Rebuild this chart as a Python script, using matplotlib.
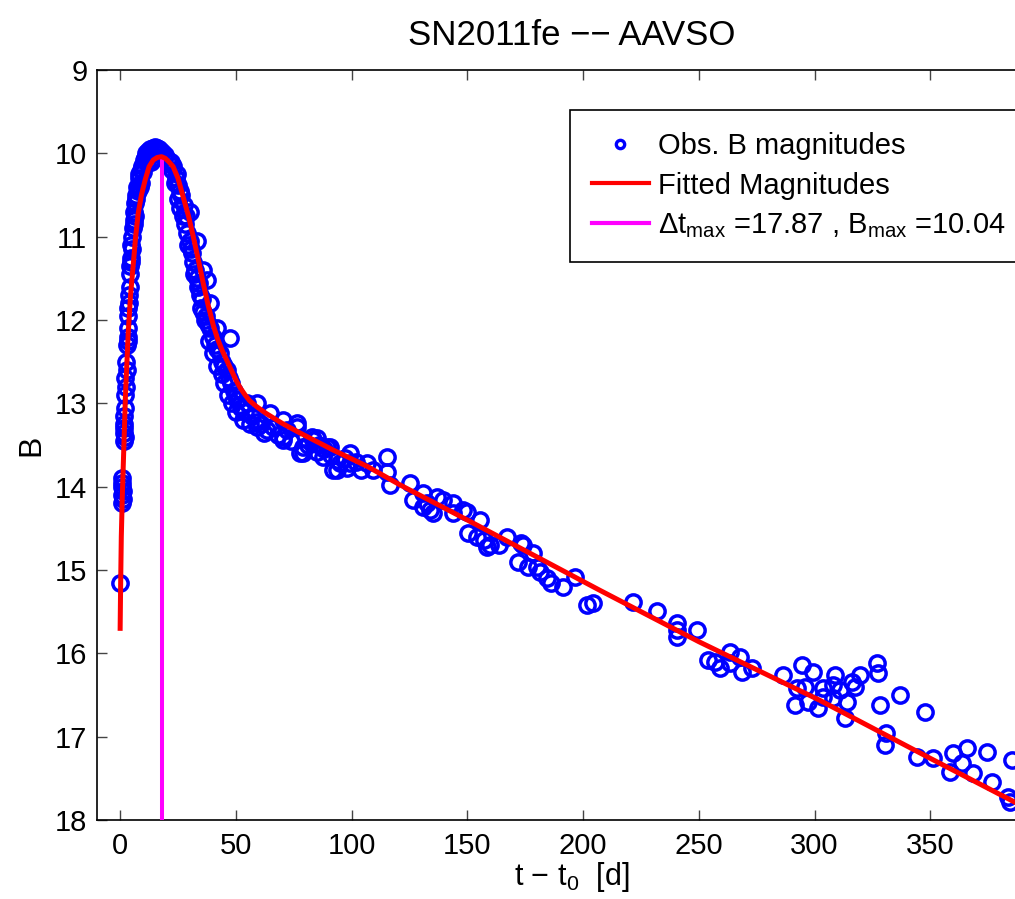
import matplotlib
matplotlib.use("Agg")
import matplotlib.pyplot as plt
from matplotlib.lines import Line2D

plt.rcParams['font.family'] = ['Liberation Sans', 'DejaVu Sans']
plt.rcParams['mathtext.fontset'] = 'custom'
plt.rcParams['mathtext.rm'] = 'Liberation Sans'
plt.rcParams['mathtext.it'] = 'Liberation Sans'
plt.rcParams['mathtext.bf'] = 'Liberation Sans'

# observed B magnitudes (days since t0, mag)
t_obs = [0.0, 0.9, 0.9, 0.9, 0.9, 1.1, 1.0, 1.1, 1.6, 1.6, 1.7, 1.8, 1.7, 1.9, 1.9,
         2.2, 2.3, 2.5, 2.4, 3.0, 3.2, 3.3, 3.2, 3.6, 3.4, 4.0, 4.2, 4.2, 4.4, 4.6,
         4.9, 5.0, 4.5, 5.6, 5.8, 6.2, 6.5, 6.8, 7.2, 7.0, 8.0, 8.3, 8.8, 9.6, 10.2,
         10.8, 11.3, 12.0, 13.0, 14.0, 15.0, 16.0, 17.0, 18.0, 15.5, 14.5, 11.8, 13.5,
         9.0, 7.5, 6.0, 5.2, 6.6, 8.6, 10.0, 12.5, 16.5, 19.0, 3.8, 2.8,
         19.5, 20.5, 21.5, 22.0, 22.5, 23.0, 24.0, 24.5, 25.0, 25.0, 26.0, 26.0, 27.0,
         27.5, 28.0, 29.0, 29.5, 30.0, 31.0, 31.5, 32.5, 33.0, 34.0, 34.5, 35.5, 36.0,
         37.4, 37.0, 38.0, 39.0, 40.0, 41.0, 42.0, 43.0, 44.0, 45.0, 46.0, 47.5, 47.0,
         48.0, 49.0, 50.0, 50.5, 51.0, 52.0, 54.0, 55.0, 57.0, 59.0, 59.0, 59.0, 63.5,
         23.5, 26.5, 28.5, 30.5, 32.0, 33.5, 35.0, 36.5, 38.5, 40.0, 42.0, 44.0, 45.0,
         46.5, 48.5, 50.0, 53.0, 56.0, 30.0, 33.0, 36.0, 39.0, 42.0,
         61.0, 62.0, 66.0, 68.0, 72.0, 74.0, 81.0, 83.0, 86.0, 88.0, 91.0, 97.0, 98.0,
         102.0, 104.0,
         64.8, 70.4, 70.5, 70.4, 76.3, 76.4, 77.8, 79.0, 79.0, 83.4, 85.0, 85.0, 87.8,
         89.4, 90.7, 92.0, 93.7, 93.7, 95.0, 99.4, 99.4, 106.7, 109.3, 115.3, 115.3,
         116.6, 125.3, 126.6, 131.0, 131.0, 132.6, 134.0, 135.0, 137.0, 139.5, 144.0,
         144.0, 148.0, 150.0, 150.3, 154.0, 155.5, 157.0, 158.5, 160.0, 163.5, 167.0,
         172.0, 173.0, 174.0, 176.0, 178.4, 180.0, 181.4, 184.4, 186.0, 191.4, 196.5,
         201.7, 204.3, 221.6, 232.0, 240.6, 240.6, 240.6, 249.2, 254.0, 257.0, 259.0,
         263.5, 263.5, 268.0, 268.7, 273.0, 286.4, 292.4, 291.6, 294.6, 296.0, 297.0,
         299.4, 301.5, 303.7, 303.7, 308.0, 308.0, 309.0, 311.0, 313.0, 314.0, 316.0,
         317.5, 319.7, 327.0, 327.5, 328.3, 330.5, 331.0, 337.0, 344.3, 347.7, 351.0,
         358.5, 360.0, 363.7, 366.0, 368.5, 374.5, 376.7, 383.6, 384.5, 385.3]
b_obs = [15.15, 13.90, 14.00, 14.10, 14.20, 14.05, 13.95, 14.15, 13.45, 13.35, 13.25,
         13.15, 13.30, 13.05, 13.40, 12.90, 12.70, 12.50, 12.80, 12.30, 12.20, 12.10,
         11.95, 11.85, 12.25, 11.70, 11.60, 11.45, 11.35, 11.25, 11.10, 11.00, 11.30,
         10.90, 10.80, 10.70, 10.60, 10.50, 10.40, 10.55, 10.30, 10.25, 10.20, 10.15,
         10.08, 10.05, 10.00, 9.97, 9.95, 9.93, 9.92, 9.93, 9.95, 9.98, 10.00, 10.05,
         10.12, 10.10, 10.35, 10.45, 10.85, 11.15, 10.75, 10.40, 10.22, 10.02, 9.97,
         10.06, 11.80, 12.60,
         10.02, 10.08, 10.12, 10.10, 10.20, 10.15, 10.30, 10.25, 10.38, 10.55, 10.45,
         10.65, 10.75, 10.62, 10.85, 10.95, 11.10, 11.05, 11.20, 11.30, 11.40, 11.50,
         11.55, 11.70, 11.75, 11.90, 11.52, 11.95, 12.05, 12.10, 12.20, 12.30, 12.35,
         12.40, 12.50, 12.55, 12.60, 12.22, 12.70, 12.75, 12.85, 12.90, 12.96, 12.95,
         13.05, 13.10, 13.00, 13.15, 13.00, 13.22, 13.28, 13.32,
         10.35, 10.50, 10.75, 11.15, 11.45, 11.60, 11.85, 12.00, 12.25, 12.40, 12.55,
         12.65, 12.75, 12.90, 13.00, 13.10, 13.20, 13.25, 10.70, 11.05, 11.40, 11.80,
         12.10,
         13.25, 13.35, 13.28, 13.38, 13.32, 13.45, 13.50, 13.40, 13.50, 13.55, 13.62,
         13.66, 13.78, 13.70, 13.80,
         13.12, 13.20, 13.44, 13.40, 13.24, 13.28, 13.60, 13.52, 13.60, 13.44, 13.42,
         13.58, 13.64, 13.52, 13.52, 13.80, 13.68, 13.80, 13.72, 13.60, 13.72, 13.72,
         13.80, 13.64, 13.82, 13.98, 13.96, 14.16, 14.08, 14.24, 14.20, 14.28, 14.32,
         14.12, 14.16, 14.20, 14.32, 14.28, 14.30, 14.56, 14.60, 14.40, 14.64, 14.72,
         14.70, 14.70, 14.60, 14.90, 14.68, 14.70, 14.96, 14.80, 14.96, 15.02, 15.10,
         15.16, 15.20, 15.08, 15.42, 15.40, 15.38, 15.49, 15.64, 15.72, 15.80, 15.72,
         16.08, 16.10, 16.18, 15.98, 16.12, 16.04, 16.22, 16.18, 16.26, 16.42, 16.62,
         16.14, 16.40, 16.58, 16.22, 16.66, 16.42, 16.52, 16.38, 16.54, 16.26, 16.44,
         16.78, 16.58, 16.34, 16.40, 16.26, 16.12, 16.24, 16.62, 17.10, 16.96, 16.50,
         17.24, 16.70, 17.26, 17.42, 17.20, 17.32, 17.14, 17.44, 17.18, 17.54, 17.72,
         17.78, 17.28]

# fitted light curve
t_fit = [0.0, 0.2, 0.5, 0.9, 1.4, 2.3, 3.5, 4.5, 5.7, 6.7, 7.8, 9.2, 10.8, 12.5,
         14.3, 16.0, 17.87, 19.5, 21.0, 22.9, 25.0, 27.2, 29.5, 31.6, 33.8, 35.9,
         38.0, 40.2, 42.0, 44.0, 46.0, 48.0, 50.0, 52.0, 54.0, 56.0, 59.0, 63.0,
         70.0, 78.0, 92.0, 107.0, 121.0, 150.0, 207.0, 250.0, 302.0, 350.0, 400.0]
b_fit = [15.70, 15.20, 14.60, 14.15, 13.70, 12.90, 12.15, 11.70, 11.32, 11.00,
         10.72, 10.50, 10.32, 10.16, 10.08, 10.05, 10.04, 10.06, 10.10, 10.16,
         10.30, 10.52, 10.75, 11.00, 11.28, 11.56, 11.82, 12.06, 12.22, 12.36,
         12.48, 12.60, 12.72, 12.82, 12.90, 12.97, 13.04, 13.12, 13.24, 13.36,
         13.56, 13.76, 13.98, 14.40, 15.24, 15.86, 16.56, 17.26, 17.98]

t_max = 17.87
b_max = 10.04

fig = plt.figure(figsize=(10.15, 8.99), dpi=100)
ax = fig.add_axes([97/1015, 79/899, (1046-97)/1015, 750/899])

ax.plot(t_obs, b_obs, 'o', ls='none', mfc='none', mec=(0, 0, 1), ms=11, mew=2.5, zorder=2)
ax.plot([t_max, t_max], [b_max, 18], color=(1, 0, 1), lw=2.9, zorder=3)
ax.plot(t_fit, b_fit, color=(1, 0, 0), lw=3.6, zorder=4)

ax.set_xlim(-10, 400)
ax.set_ylim(18, 9)
ax.set_xticks(range(0, 401, 50))
ax.set_xticklabels([str(v) for v in range(0, 351, 50)] + [''])
ax.set_yticks(range(9, 19))

ax.tick_params(direction='in', length=7, width=1, color='#444444', labelsize=21,
               top=True, right=True, pad=7)
ax.tick_params(axis='x', pad=9)
for s in ax.spines.values():
    s.set_linewidth(1.2)

ax.set_title('SN2011fe \u2212\u2212 AAVSO', fontsize=25, pad=18)
ax.set_xlabel(r't $-$ t$_0$  [d]', fontsize=22, labelpad=0)
ax.set_ylabel('B', fontsize=23, labelpad=6)

h_obs = Line2D([], [], ls='none', marker='o', mfc='none', mec=(0, 0, 1), ms=6, mew=2.4)
h_fit = Line2D([], [], color=(1, 0, 0), lw=3)
h_max = Line2D([], [], color=(1, 0, 1), lw=3)
leg = ax.legend([h_obs, h_fit, h_max],
                ['Obs. B magnitudes', 'Fitted Magnitudes',
                 'Δt$_{\\mathrm{max}}$ =%.2f , B$_{\\mathrm{max}}$ =%.2f' % (t_max, b_max)],
                loc='upper left', bbox_to_anchor=(570/1015, 1 - 110/899),
                bbox_transform=fig.transFigure, borderaxespad=0, fontsize=21,
                fancybox=False, framealpha=1, edgecolor='black',
                handlelength=1.95, handletextpad=0.3, labelspacing=0.4, borderpad=0.75)
leg.get_frame().set_linewidth(1.2)

fig.savefig('out.png', dpi=100)
